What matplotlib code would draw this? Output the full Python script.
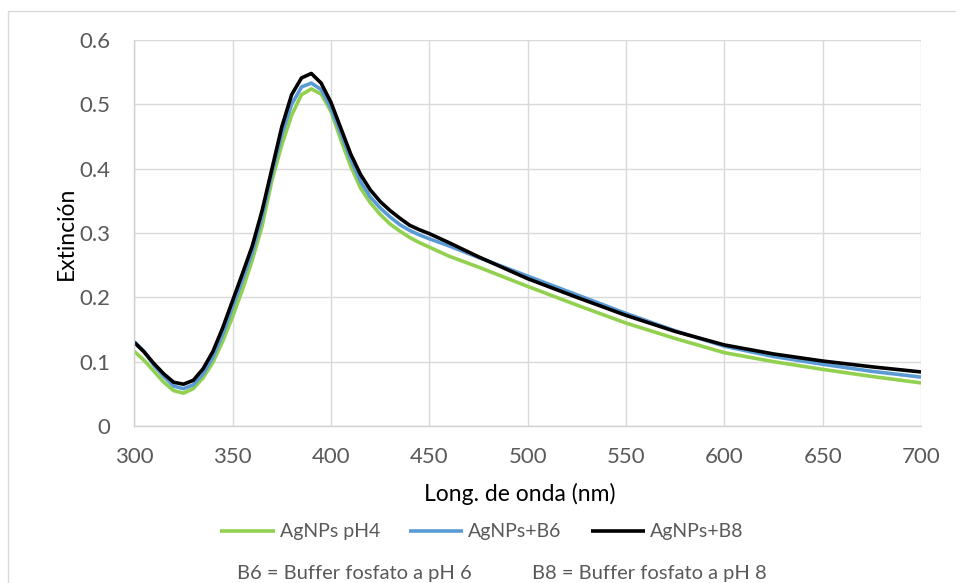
import matplotlib
matplotlib.use("Agg")
import matplotlib.pyplot as plt
from matplotlib.lines import Line2D

wavelength = [300, 305, 310, 315, 320, 325, 330, 335, 340, 345, 350, 355, 360, 365, 370,
              375, 380, 385, 390, 395, 400, 405, 410, 415, 420, 425, 430, 435, 440, 445,
              450, 460, 475, 500, 525, 550, 575, 600, 625, 650, 675, 700]
ph4 = [0.116, 0.102, 0.085, 0.068, 0.055, 0.051, 0.058, 0.075, 0.099, 0.132, 0.170, 0.212,
       0.258, 0.311, 0.382, 0.437, 0.483, 0.515, 0.524, 0.516, 0.489, 0.445, 0.404, 0.370,
       0.347, 0.329, 0.314, 0.303, 0.293, 0.285, 0.278, 0.264, 0.247, 0.217, 0.188, 0.160,
       0.136, 0.114, 0.100, 0.088, 0.077, 0.067]
b6 = [0.131, 0.116, 0.094, 0.077, 0.062, 0.058, 0.064, 0.081, 0.107, 0.143, 0.185, 0.227,
      0.270, 0.325, 0.393, 0.453, 0.500, 0.527, 0.533, 0.523, 0.494, 0.455, 0.415, 0.380,
      0.356, 0.339, 0.325, 0.313, 0.304, 0.297, 0.291, 0.280, 0.262, 0.233, 0.204, 0.175,
      0.148, 0.124, 0.108, 0.096, 0.085, 0.076]
b8 = [0.130, 0.115, 0.097, 0.081, 0.068, 0.065, 0.071, 0.089, 0.116, 0.153, 0.195, 0.237,
      0.280, 0.335, 0.400, 0.465, 0.515, 0.541, 0.548, 0.533, 0.503, 0.463, 0.423, 0.391,
      0.367, 0.349, 0.335, 0.323, 0.312, 0.305, 0.299, 0.285, 0.263, 0.229, 0.200, 0.172,
      0.147, 0.126, 0.112, 0.101, 0.092, 0.084]
series_names = ["AgNPs pH4", "AgNPs+B6", "AgNPs+B8"]
series_colors = ["#92d050", "#5b9bd5", "#000000"]
xticks = [300, 350, 400, 450, 500, 550, 600, 650, 700]
yticks = [0, 0.1, 0.2, 0.3, 0.4, 0.5, 0.6]
ytick_labels = ["0", "0.1", "0.2", "0.3", "0.4", "0.5", "0.6"]
footnotes = ["B6 = Buffer fosfato a pH 6", "B8 = Buffer fosfato a pH 8"]

plt.rcParams['font.family'] = ['Lato', 'DejaVu Sans']

W, H = 956, 583
fig = plt.figure(figsize=(W / 100, H / 100), dpi=100)
ax = fig.add_axes([134.3 / W, 1 - 426 / H, (921 - 134.3) / W, (426 - 40) / H])

for vals, name, col in zip([ph4, b6, b8], series_names, series_colors):
    ax.plot(wavelength, vals, color=col, lw=2.6, label=name,
            solid_capstyle='butt', solid_joinstyle='round')

ax.set_xlim(300, 700)
ax.set_ylim(0, 0.6)
ax.set_xticks(xticks)
ax.set_yticks(yticks)
ax.set_yticklabels(ytick_labels)
ax.grid(True, color="#d9d9d9", lw=1.0)
ax.set_axisbelow(True)
for s in ['top', 'right']:
    ax.spines[s].set_visible(False)
for s in ['left', 'bottom']:
    ax.spines[s].set_color("#d0d0d0")
    ax.spines[s].set_linewidth(1.0)
ax.tick_params(length=0, labelsize=16, colors="#595959")
ax.tick_params(axis='x', pad=15)
ax.tick_params(axis='y', pad=17)
ax.set_xlabel("Long. de onda (nm)", fontsize=16.5, color="#000000")
ax.set_ylabel("Extinción", fontsize=16.5, color="#000000")
ax.xaxis.set_label_coords((519.5 - 134.3) / 786.7, (426 - 483) / 386)
ax.yaxis.set_label_coords((77 - 134.3) / 786.7, 0.5)

leg = fig.legend(loc='center', bbox_to_anchor=(482 / W, 1 - 532 / H), ncol=3,
                 frameon=False, fontsize=14, handlelength=2.8, handletextpad=0.25,
                 columnspacing=1.5)
for t in leg.get_texts():
    t.set_color("#595959")

fig.text(237 / W, 1 - 573 / H, footnotes[0], fontsize=14.5,
         color="#595959", va='center', ha='left')
fig.text(532 / W, 1 - 573 / H, footnotes[1], fontsize=14.5,
         color="#595959", va='center', ha='left')

fig.add_artist(Line2D([7.5 / W, 7.5 / W, 1.0], [0.0, 1 - 10.7 / H, 1 - 10.7 / H],
                      transform=fig.transFigure, color="#d9d9d9", lw=1.0))

fig.savefig("out.png", dpi=100)
